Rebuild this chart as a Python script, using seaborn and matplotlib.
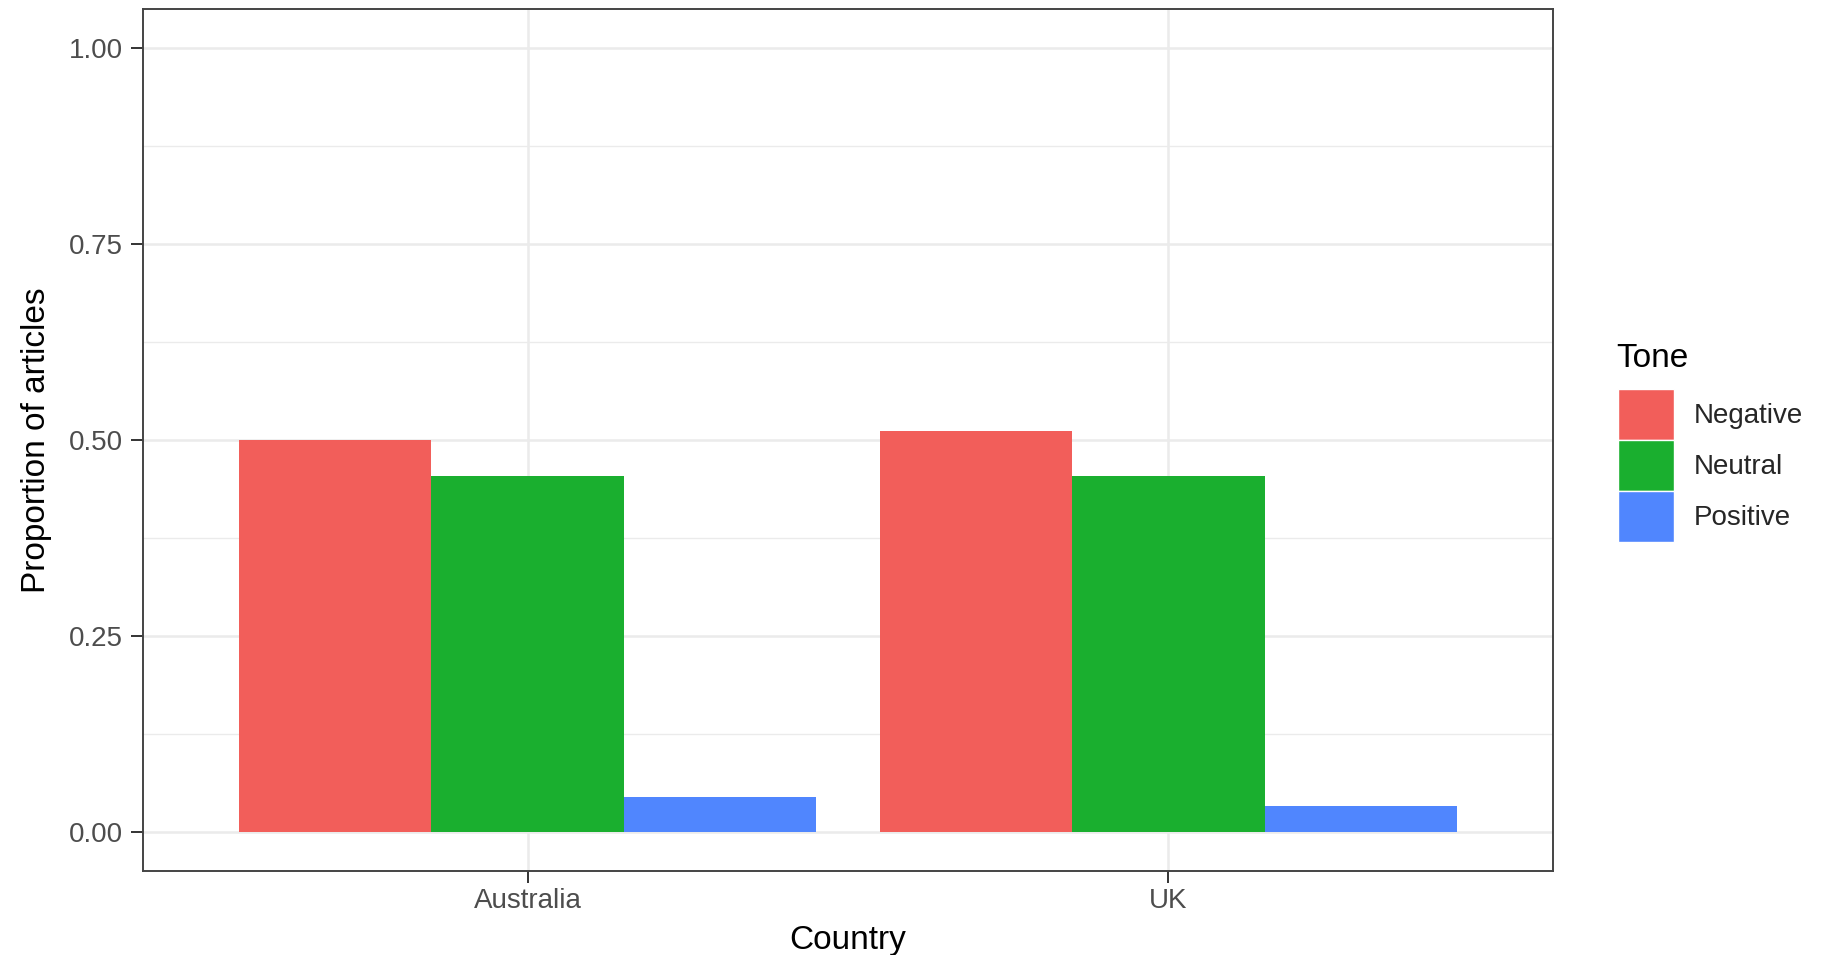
import matplotlib
matplotlib.use("Agg")
import matplotlib.pyplot as plt
import seaborn as sns
import pandas as pd
from matplotlib.ticker import MultipleLocator
from matplotlib.patches import Patch

countries = ["Australia", "UK"]
tones = ["Negative", "Neutral", "Positive"]
negative = [0.500, 0.512]
neutral = [0.454, 0.454]
positive = [0.045, 0.033]
tone_colors = ["#F25E5A", "#1AAF2F", "#5086FE"]
y_ticks = [0.00, 0.25, 0.50, 0.75, 1.00]
y_tick_labels = ["0.00", "0.25", "0.50", "0.75", "1.00"]

rows = []
for tone, vals in zip(tones, [negative, neutral, positive]):
    for c, v in zip(countries, vals):
        rows.append({"Country": c, "Tone": tone, "Proportion": v})
df = pd.DataFrame(rows)

sns.set_theme(style="white")
plt.rcParams["font.family"] = ["Liberation Sans", "DejaVu Sans"]

fig = plt.figure(figsize=(18.33, 9.55), dpi=100)
ax = fig.add_axes([143/1833, 1 - 871/955, (1553-143)/1833, (871-9)/955])

sns.barplot(data=df, x="Country", y="Proportion", hue="Tone", order=countries,
            hue_order=tones, palette=tone_colors, width=0.9, gap=0,
            saturation=1, linewidth=0, edgecolor="none", ax=ax, zorder=3)

ax.set_xlim(-0.6, 1.6)
ax.set_ylim(-0.05, 1.05)
ax.set_yticks(y_ticks)
ax.set_yticklabels(y_tick_labels)
ax.yaxis.set_minor_locator(MultipleLocator(0.125))

ax.set_axisbelow(True)
ax.grid(True, which="major", color="#EBEBEB", linewidth=1.8, zorder=0)
ax.grid(True, which="minor", axis="y", color="#EBEBEB", linewidth=1.0, zorder=0)
ax.tick_params(which="minor", left=False, bottom=False)
ax.tick_params(which="major", axis="both", direction="out", length=8.5, width=1.4,
               color="#333333", labelsize=20, labelcolor="#4D4D4D")
ax.tick_params(axis="y", pad=6)
ax.tick_params(axis="x", pad=4)
ax.tick_params(left=True, bottom=True)
for s in ax.spines.values():
    s.set_visible(True)
    s.set_color("#444444")
    s.set_linewidth(1.4)

ax.set_xlabel("Country", fontsize=24, color="black", labelpad=8)
ax.set_ylabel("Proportion of articles", fontsize=24, color="black", labelpad=12)

if ax.get_legend() is not None:
    ax.get_legend().remove()
fig.text(1616/1833, 1 - 367/955, "Tone", fontsize=24, color="black",
         ha="left", va="baseline")
handles = [Patch(facecolor=c, edgecolor="white", linewidth=1.0) for c in tone_colors]
fig.legend(handles, tones, loc="upper left", bbox_to_anchor=(1618/1833, 1 - 389/955),
           bbox_transform=fig.transFigure, frameon=False,
           fontsize=20, handlelength=2.0, handleheight=2.44,
           labelspacing=0.0, handletextpad=0.72, borderaxespad=0, borderpad=0)

fig.savefig("out.png", dpi=100)
